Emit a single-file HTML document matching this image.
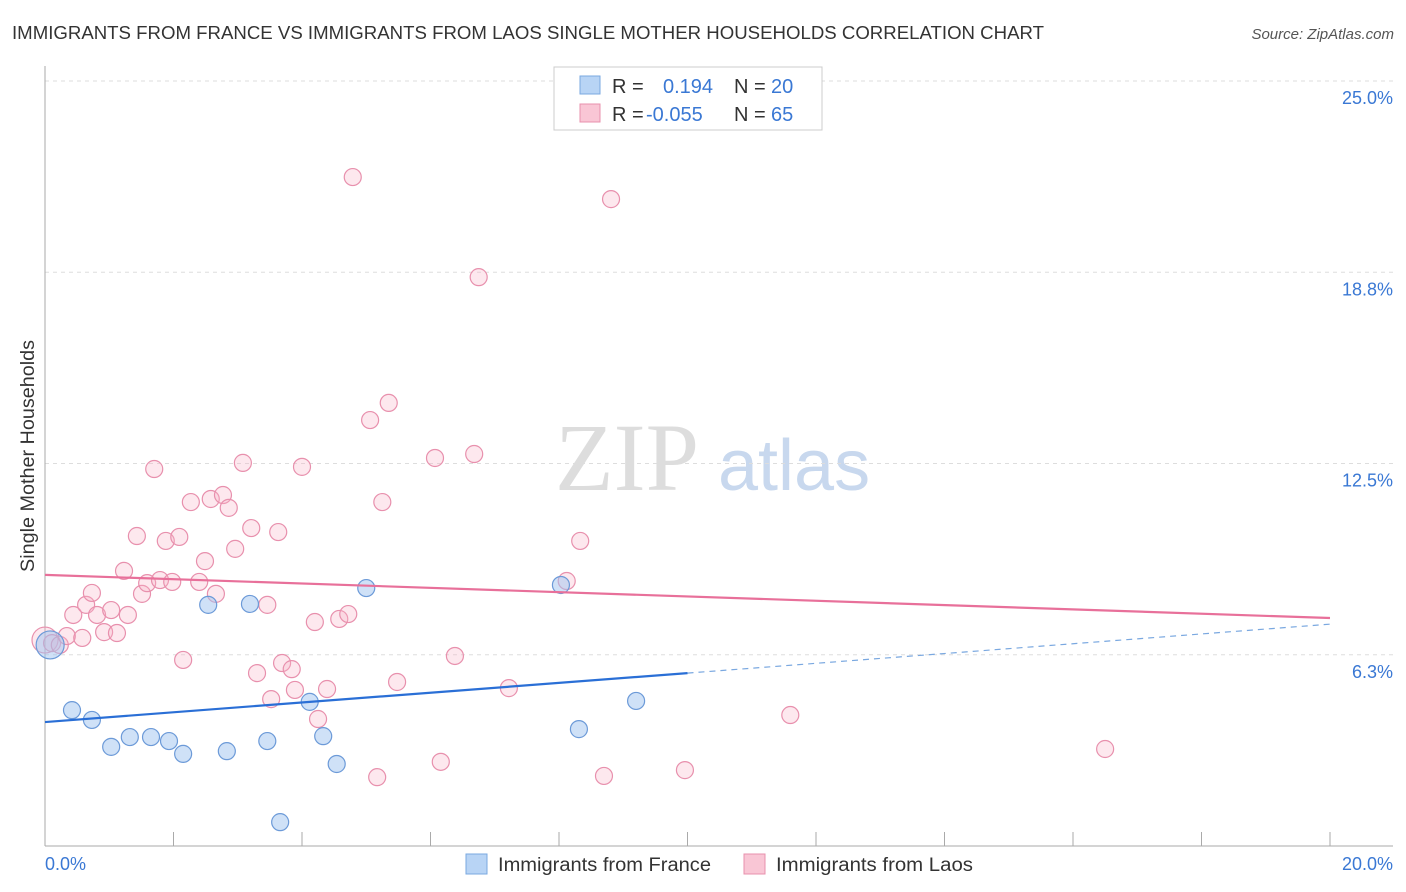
<!DOCTYPE html>
<html><head><meta charset="utf-8"><style>
body{margin:0;background:#fff;font-family:"Liberation Sans",sans-serif;}
svg{display:block}
</style></head><body>
<svg id="c" width="1406" height="892">
<text x="12" y="39" font-size="18" fill="#333" textLength="1032" lengthAdjust="spacingAndGlyphs">IMMIGRANTS FROM FRANCE VS IMMIGRANTS FROM LAOS SINGLE MOTHER HOUSEHOLDS CORRELATION CHART</text>
<text x="1394" y="39" font-size="15" fill="#555" text-anchor="end" font-style="italic">Source: ZipAtlas.com</text>
<text x="555" y="490" font-size="96" fill="#ddd" font-family="Liberation Serif">ZIP</text>
<text x="718" y="490" font-size="72" fill="#c8d8ee">atlas</text>
<text transform="translate(34,456) rotate(-90)" font-size="19" fill="#333" text-anchor="middle" textLength="232" lengthAdjust="spacingAndGlyphs">Single Mother Households</text>
<g id="grid"></g><g id="marks"></g>
<g>
<rect x="554" y="67" width="268" height="63" fill="#fff" stroke="#ccc"/>
<rect x="580" y="76" width="20" height="18" fill="#b8d4f5" stroke="#7aa8e0"/>
<rect x="580" y="104" width="20" height="18" fill="#f9c6d5" stroke="#e890ad"/>
<text x="612" y="93" font-size="20" fill="#333">R = <tspan x="663" fill="#3a78d4">0.194</tspan><tspan x="734" fill="#333">N = </tspan><tspan x="771" fill="#3a78d4">20</tspan></text>
<text x="612" y="121" font-size="20" fill="#333">R = <tspan x="646" fill="#3a78d4">-0.055</tspan><tspan x="734" fill="#333">N = </tspan><tspan x="771" fill="#3a78d4">65</tspan></text>
</g>
<g>
<rect x="466" y="854" width="21" height="20" fill="#b8d4f5" stroke="#7aa8e0"/>
<text x="498" y="871" font-size="19" fill="#333" textLength="213" lengthAdjust="spacingAndGlyphs">Immigrants from France</text>
<rect x="744" y="854" width="21" height="20" fill="#f9c6d5" stroke="#e890ad"/>
<text x="776" y="871" font-size="19" fill="#333" textLength="197" lengthAdjust="spacingAndGlyphs">Immigrants from Laos</text>
</g>
</svg>
<script>
const yTicks=[6.25,12.5,18.75,25];
const yTickLabels=["6.3%","12.5%","18.8%","25.0%"];
const xTickLabels=["0.0%","20.0%"];
const franceX=[0.08,0.42,0.73,1.03,1.32,1.65,1.93,2.15,2.54,2.83,3.19,3.46,3.66,4.12,4.33,4.54,5.00,8.03,8.31,9.20];
const franceY=[6.57,4.44,4.12,3.24,3.56,3.56,3.43,3.01,7.88,3.10,7.91,3.43,0.78,4.71,3.59,2.68,8.43,8.53,3.82,4.74];
const laosX=[0,0.11,0.23,0.34,0.44,0.58,0.64,0.73,0.81,0.92,1.03,1.12,1.23,1.29,1.43,1.51,1.59,1.70,1.79,1.88,1.98,2.09,2.15,2.27,2.40,2.49,2.58,2.66,2.77,2.86,2.96,3.08,3.21,3.30,3.46,3.52,3.63,3.69,3.84,3.89,4.00,4.20,4.25,4.39,4.58,4.72,4.79,5.06,5.17,5.25,5.35,5.48,6.07,6.16,6.38,6.68,6.75,7.22,8.12,8.33,8.70,8.81,9.96,11.60,16.50];
const laosY=[6.73,6.63,6.57,6.86,7.55,6.80,7.88,8.27,7.55,6.99,7.71,6.96,8.99,7.55,10.13,8.24,8.59,12.32,8.69,9.97,8.63,10.10,6.08,11.24,8.63,9.31,11.34,8.24,11.47,11.05,9.71,12.52,10.39,5.65,7.88,4.80,10.26,5.98,5.78,5.10,12.39,7.32,4.15,5.13,7.42,7.58,21.86,13.92,2.25,11.24,14.48,5.36,12.68,2.75,6.21,12.81,18.59,5.16,8.66,9.97,2.29,21.14,2.48,4.28,3.17];
const franceTrend=[4.05,7.25];
const laosTrend=[8.86,7.45];
const sx=v=>45+v/20*1285, sy=v=>846-v*30.6;
const NS="http://www.w3.org/2000/svg";
function mk(t,a,p){const e=document.createElementNS(NS,t);for(const k in a)e.setAttribute(k,a[k]);p.appendChild(e);return e;}
const g=document.getElementById('grid'), m=document.getElementById('marks');
let l=mk('line',{x1:45,y1:sy(25),x2:1393,y2:sy(25),stroke:'#ddd','stroke-dasharray':'4,4'},g);
yTicks.forEach((v,i)=>{
 const gl=mk('line',{x1:45,y1:sy(v),x2:1393,y2:sy(v),stroke:'#ddd','stroke-dasharray':'4,4'},g);
 
 
 const t=mk('text',{x:1393,y:sy(v)+23,'font-size':18,fill:'#3a78d4','text-anchor':'end'},g);
 t.textContent=yTickLabels[i];
 
 
});
mk('line',{x1:45,y1:66,x2:45,y2:846,stroke:'#aaa'},g);
mk('line',{x1:45,y1:846,x2:1393,y2:846,stroke:'#aaa'},g);
for(let i=0;i<=10;i++){const tk=mk('line',{x1:sx(i*2),y1:832,x2:sx(i*2),y2:846,stroke:'#aaa'},g);
 
 }
[[0,45,'start'],[1,1393,'end']].forEach(([i,x,a])=>{const t=mk('text',{x:x,y:870,'font-size':18,fill:'#3a78d4','text-anchor':a},g);t.textContent=xTickLabels[i];
 
 });
laosX.forEach((x,i)=>{const c=mk('circle',{cx:sx(x),cy:sy(laosY[i]),r:i==0?13:8.5,fill:'rgba(248,180,200,0.3)',stroke:'#e890ad','stroke-width':1.2},m);
 
 });
franceX.forEach((x,i)=>{const c=mk('circle',{cx:sx(x),cy:sy(franceY[i]),r:i==0?14:8.5,fill:'rgba(160,196,240,0.5)',stroke:'#6c9ad8','stroke-width':1.2},m);
 
 });
const fy=x=>franceTrend[0]+(franceTrend[1]-franceTrend[0])*x/20;
let a=mk('line',{x1:sx(0),y1:sy(fy(0)),x2:sx(10),y2:sy(fy(10)),stroke:'#2a6fd6','stroke-width':2.2},m);


let b=mk('line',{x1:sx(10),y1:sy(fy(10)),x2:sx(20),y2:sy(fy(20)),stroke:'#7aa8e0','stroke-width':1.2,'stroke-dasharray':'6,5'},m);


let p=mk('line',{x1:sx(0),y1:sy(laosTrend[0]),x2:sx(20),y2:sy(laosTrend[1]),stroke:'#e8709a','stroke-width':2.2},m);


</script>
</body></html>
